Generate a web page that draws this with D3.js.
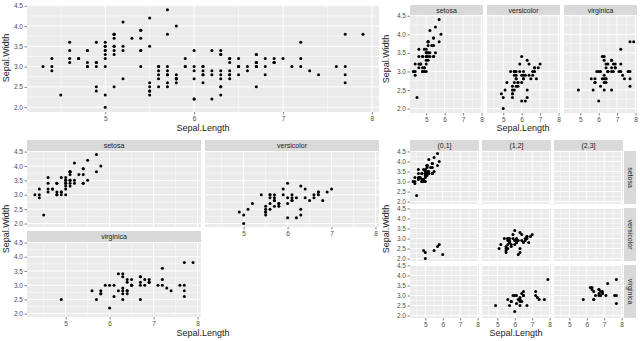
<!DOCTYPE html>
<html>
<head>
  <title>Iris facets</title>
  <script src="https://d3js.org/d3.v7.min.js"></script>
  <style>
    body { margin: 0; background: #fff; }
    text { font-family: "Liberation Sans", Arial, sans-serif; }
  </style>
</head>
<body>
  <div id="chart"></div>
  <script>
    // iris: Sepal.Length, Sepal.Width, Petal.Width per species
    const speciesNames = ["setosa", "versicolor", "virginica"];
    const setosaLength = [5.1,4.9,4.7,4.6,5.0,5.4,4.6,5.0,4.4,4.9,5.4,4.8,4.8,4.3,5.8,5.7,5.4,5.1,5.7,5.1,5.4,5.1,4.6,5.1,4.8,5.0,5.0,5.2,5.2,4.7,4.8,5.4,5.2,5.5,4.9,5.0,5.5,4.9,4.4,5.1,5.0,4.5,4.4,5.0,5.1,4.8,5.1,4.6,5.3,5.0];
    const setosaWidth = [3.5,3.0,3.2,3.1,3.6,3.9,3.4,3.4,2.9,3.1,3.7,3.4,3.0,3.0,4.0,4.4,3.9,3.5,3.8,3.8,3.4,3.7,3.6,3.3,3.4,3.0,3.4,3.5,3.4,3.2,3.1,3.4,4.1,4.2,3.1,3.2,3.5,3.6,3.0,3.4,3.5,2.3,3.2,3.5,3.8,3.0,3.8,3.2,3.7,3.3];
    const setosaPetalWidth = [0.2,0.2,0.2,0.2,0.2,0.4,0.3,0.2,0.2,0.1,0.2,0.2,0.1,0.1,0.2,0.4,0.4,0.3,0.3,0.3,0.2,0.4,0.2,0.5,0.2,0.2,0.4,0.2,0.2,0.2,0.2,0.4,0.1,0.2,0.2,0.2,0.2,0.1,0.2,0.2,0.3,0.3,0.2,0.6,0.4,0.3,0.2,0.2,0.2,0.2];
    const versicolorLength = [7.0,6.4,6.9,5.5,6.5,5.7,6.3,4.9,6.6,5.2,5.0,5.9,6.0,6.1,5.6,6.7,5.6,5.8,6.2,5.6,5.9,6.1,6.3,6.1,6.4,6.6,6.8,6.7,6.0,5.7,5.5,5.5,5.8,6.0,5.4,6.0,6.7,6.3,5.6,5.5,5.5,6.1,5.8,5.0,5.6,5.7,5.7,6.2,5.1,5.7];
    const versicolorWidth = [3.2,3.2,3.1,2.3,2.8,2.8,3.3,2.4,2.9,2.7,2.0,3.0,2.2,2.9,2.9,3.1,3.0,2.7,2.2,2.5,3.2,2.8,2.5,2.8,2.9,3.0,2.8,3.0,2.9,2.6,2.4,2.4,2.7,2.7,3.0,3.4,3.1,2.3,3.0,2.5,2.6,3.0,2.6,2.3,2.7,3.0,2.9,2.9,2.5,2.8];
    const versicolorPetalWidth = [1.4,1.5,1.5,1.3,1.5,1.3,1.6,1.0,1.3,1.4,1.0,1.5,1.0,1.4,1.3,1.4,1.5,1.0,1.5,1.1,1.8,1.3,1.5,1.2,1.3,1.4,1.4,1.7,1.5,1.0,1.1,1.0,1.2,1.6,1.5,1.6,1.5,1.3,1.3,1.3,1.2,1.4,1.2,1.0,1.3,1.2,1.3,1.3,1.1,1.3];
    const virginicaLength = [6.3,5.8,7.1,6.3,6.5,7.6,4.9,7.3,6.7,7.2,6.5,6.4,6.8,5.7,5.8,6.4,6.5,7.7,7.7,6.0,6.9,5.6,7.7,6.3,6.7,7.2,6.2,6.1,6.4,7.2,7.4,7.9,6.4,6.3,6.1,7.7,6.3,6.4,6.0,6.9,6.7,6.9,5.8,6.8,6.7,6.7,6.3,6.5,6.2,5.9];
    const virginicaWidth = [3.3,2.7,3.0,2.9,3.0,3.0,2.5,2.9,2.5,3.6,3.2,2.7,3.0,2.5,2.8,3.2,3.0,3.8,2.6,2.2,3.2,2.8,2.8,2.7,3.3,3.2,2.8,3.0,2.8,3.0,2.8,3.8,2.8,2.8,2.6,3.0,3.4,3.1,3.0,3.1,3.1,3.1,2.7,3.2,3.3,3.0,2.5,3.0,3.4,3.0];
    const virginicaPetalWidth = [2.5,1.9,2.1,1.8,2.2,2.1,1.7,1.8,1.8,2.5,2.0,1.9,2.1,2.0,2.4,2.3,1.8,2.2,2.3,1.5,2.3,2.0,2.0,1.8,2.1,1.8,1.8,1.8,2.1,1.6,1.9,2.0,2.2,1.5,1.4,2.3,2.4,1.8,1.8,2.1,2.4,2.3,1.9,2.3,2.5,2.3,1.9,2.0,2.3,1.8];

    const cutLabels = ["(0,1]", "(1,2]", "(2,3]"];
    const cutBreaks = [0, 1, 2, 3];
    const xTicks = [5, 6, 7, 8];
    const xMinor = [4.5, 5.5, 6.5, 7.5];
    const yTicks = [2.0, 2.5, 3.0, 3.5, 4.0, 4.5];
    const yMinor = [2.25, 2.75, 3.25, 3.75, 4.25];

    const lengths = [setosaLength, versicolorLength, virginicaLength];
    const widths = [setosaWidth, versicolorWidth, virginicaWidth];
    const petals = [setosaPetalWidth, versicolorPetalWidth, virginicaPetalWidth];

    const iris = [];
    speciesNames.forEach((s, i) => {
      lengths[i].forEach((v, j) => {
        const pw = petals[i][j];
        const cut = cutLabels[cutBreaks.findIndex((b, k) => k > 0 && pw > cutBreaks[k - 1] && pw <= b) - 1];
        iris.push({ species: s, length: v, width: widths[i][j], cut: cut });
      });
    });

    // ggplot default 5% expansion of the data range
    const xExt = d3.extent(iris, d => d.length);
    const yExt = d3.extent(iris, d => d.width);
    const xPad = (xExt[1] - xExt[0]) * 0.05;
    const yPad = (yExt[1] - yExt[0]) * 0.05;
    const xDomain = [xExt[0] - xPad, xExt[1] + xPad];
    const yDomain = [yExt[0] - yPad, yExt[1] + yPad];

    const svg = d3.select("#chart").append("svg")
      .attr("width", 640)
      .attr("height", 341);

    function panel(x0, x1, y0, y1, pts, showX, showY) {
      const x = d3.scaleLinear().domain(xDomain).range([x0, x1]);
      const y = d3.scaleLinear().domain(yDomain).range([y1, y0]);
      const g = svg.append("g");
      g.append("rect")
        .attr("x", x0).attr("y", y0)
        .attr("width", x1 - x0).attr("height", y1 - y0)
        .attr("fill", "#ebebeb");
      g.selectAll(".xmin").data(xMinor).enter().append("line")
        .attr("x1", d => x(d)).attr("x2", d => x(d))
        .attr("y1", y0).attr("y2", y1)
        .attr("stroke", "#fff").attr("stroke-width", 0.5);
      g.selectAll(".ymin").data(yMinor).enter().append("line")
        .attr("x1", x0).attr("x2", x1)
        .attr("y1", d => y(d)).attr("y2", d => y(d))
        .attr("stroke", "#fff").attr("stroke-width", 0.5);
      g.selectAll(".xmaj").data(xTicks).enter().append("line")
        .attr("x1", d => x(d)).attr("x2", d => x(d))
        .attr("y1", y0).attr("y2", y1)
        .attr("stroke", "#fff").attr("stroke-width", 1);
      g.selectAll(".ymaj").data(yTicks).enter().append("line")
        .attr("x1", x0).attr("x2", x1)
        .attr("y1", d => y(d)).attr("y2", d => y(d))
        .attr("stroke", "#fff").attr("stroke-width", 1);
      g.selectAll("circle").data(pts).enter().append("circle")
        .attr("cx", d => x(d.length))
        .attr("cy", d => y(d.width))
        .attr("r", 1.5)
        .attr("fill", "#000");

      if (showX) {
        const ax = svg.append("g")
          .attr("transform", `translate(0,${y1})`)
          .call(d3.axisBottom(x).tickValues(xTicks).tickFormat(d3.format("d")).tickSize(2.5).tickPadding(1.5));
        styleAxis(ax);
      }
      if (showY) {
        const ay = svg.append("g")
          .attr("transform", `translate(${x0},0)`)
          .call(d3.axisLeft(y).tickValues(yTicks).tickFormat(d3.format(".1f")).tickSize(2.5).tickPadding(1.5));
        styleAxis(ay);
      }
    }

    function styleAxis(a) {
      a.select(".domain").remove();
      a.selectAll(".tick line").attr("stroke", "#333").attr("stroke-width", 0.6);
      a.selectAll(".tick text")
        .attr("fill", "#4d4d4d")
        .style("font-size", "6.5px")
        .style("font-family", "'Liberation Sans', Arial, sans-serif");
    }

    function strip(x0, x1, y0, y1, label, vertical) {
      svg.append("rect")
        .attr("x", x0).attr("y", y0)
        .attr("width", x1 - x0).attr("height", y1 - y0)
        .attr("fill", "#d9d9d9");
      const cx = (x0 + x1) / 2, cy = (y0 + y1) / 2;
      svg.append("text")
        .attr("x", cx).attr("y", cy)
        .attr("text-anchor", "middle")
        .attr("dominant-baseline", "central")
        .attr("transform", vertical ? `rotate(90,${cx},${cy})` : null)
        .attr("fill", "#1a1a1a")
        .style("font-size", "7px")
        .text(label);
    }

    function titles(xc, xy, yx, yc) {
      svg.append("text")
        .attr("x", xc).attr("y", xy)
        .attr("text-anchor", "middle")
        .attr("fill", "#222")
        .style("font-size", "9px")
        .text("Sepal.Length");
      svg.append("text")
        .attr("transform", `translate(${yx},${yc}) rotate(-90)`)
        .attr("text-anchor", "middle")
        .attr("fill", "#222")
        .style("font-size", "9px")
        .text("Sepal.Width");
    }

    // plot 1: all points
    panel(27, 379, 5, 112, iris, true, true);
    titles(203, 131, 9, 58);

    // plot 2: facet_wrap, one row
    const cols2 = [[410, 483], [487, 560], [564, 637]];
    speciesNames.forEach((s, i) => {
      strip(cols2[i][0], cols2[i][1], 5, 15, s, false);
      panel(cols2[i][0], cols2[i][1], 15, 113, iris.filter(d => d.species === s), true, i === 0);
    });
    titles(523, 131, 389, 59);

    // plot 3: facet_wrap, two columns
    const cells3 = [
      { x: [27, 201], y: [140, 151, 227], showX: false, showY: true },
      { x: [205, 379], y: [140, 151, 227], showX: true, showY: false },
      { x: [27, 201], y: [231, 242, 317], showX: true, showY: true }
    ];
    speciesNames.forEach((s, i) => {
      const c = cells3[i];
      strip(c.x[0], c.x[1], c.y[0], c.y[1], s, false);
      panel(c.x[0], c.x[1], c.y[1], c.y[2], iris.filter(d => d.species === s), c.showX, c.showY);
    });
    titles(203, 336, 9, 229);

    // plot 4: facet_grid species ~ cut(Petal.Width)
    const cols4 = [[410, 479], [482, 551], [554, 623]];
    const rows4 = [[151, 204], [208, 261], [265, 318]];
    cutLabels.forEach((c, j) => strip(cols4[j][0], cols4[j][1], 140, 151, c, false));
    speciesNames.forEach((s, i) => {
      strip(624, 636, rows4[i][0], rows4[i][1], s, true);
      cutLabels.forEach((c, j) => {
        panel(cols4[j][0], cols4[j][1], rows4[i][0], rows4[i][1],
          iris.filter(d => d.species === s && d.cut === c), i === 2, j === 0);
      });
    });
    titles(516, 336, 389, 229);
  </script>
</body>
</html>
